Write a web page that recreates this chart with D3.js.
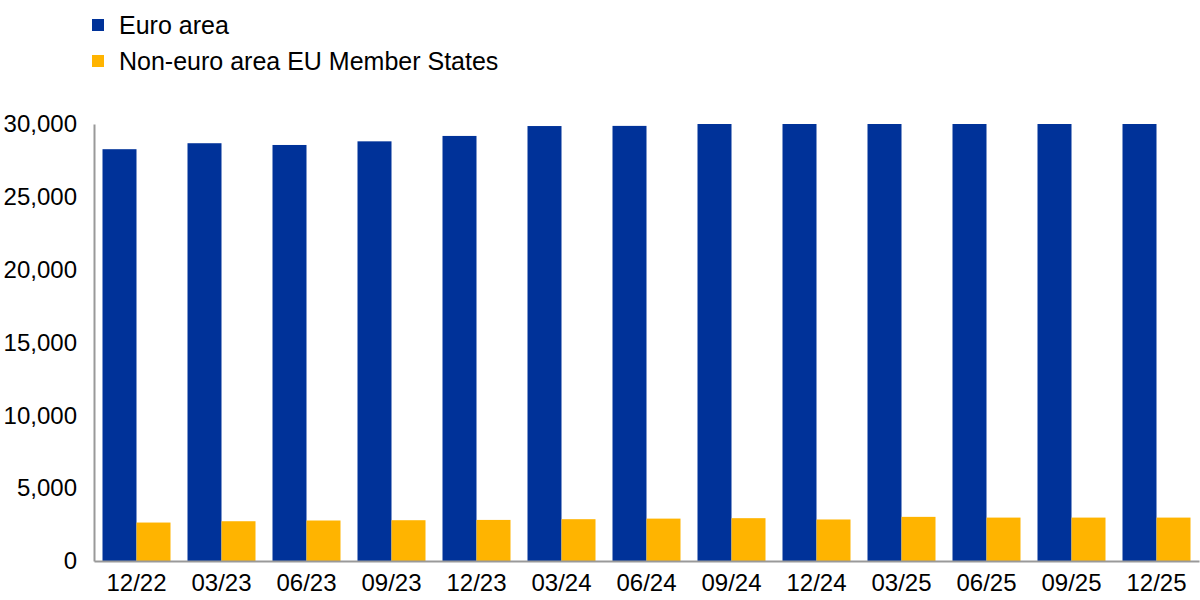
<!DOCTYPE html>
<html>
<head>
<meta charset="utf-8">
<script src="https://cdn.jsdelivr.net/npm/d3@7/dist/d3.min.js"></script>
<style>
  html, body { margin: 0; padding: 0; background: #fff; }
  svg { display: block; font-family: "Liberation Sans", Arial, sans-serif; }
</style>
</head>
<body>
<svg id="chart" width="1200" height="600"></svg>
<script>
const categories = ["12/22","03/23","06/23","09/23","12/23","03/24","06/24","09/24","12/24","03/25","06/25","09/25","12/25"];
const seriesNames = ["Euro area", "Non-euro area EU Member States"];
const euroArea = [28270, 28680, 28560, 28810, 29180, 29860, 29870, 30000, 30000, 30000, 30000, 30000, 30000];
const nonEuroArea = [2640, 2730, 2780, 2800, 2820, 2870, 2910, 2940, 2850, 3030, 2980, 2980, 2980];
const yTicks = [0, 5000, 10000, 15000, 20000, 25000, 30000];
const colors = ["#003299", "#FFB400"];

const svg = d3.select("#chart");
const margin = { left: 94, right: 1, top: 124, bottom: 39 };
const W = 1200, H = 600;

const x = d3.scaleBand().domain(categories)
  .range([margin.left, W - margin.right])
  .paddingInner(0.2).paddingOuter(0.1);
const xs = d3.scaleBand().domain([0, 1]).range([0, x.bandwidth()]);
const y = d3.scaleLinear().domain([0, 30000]).range([H - margin.bottom, margin.top]);

const series = [euroArea, nonEuroArea];

// bars
series.forEach((vals, si) => {
  svg.append("g").selectAll("rect").data(vals).join("rect")
    .attr("x", (d, i) => x(categories[i]) + xs(si))
    .attr("y", d => y(Math.min(d, 30000)))
    .attr("width", xs.bandwidth())
    .attr("height", d => y(0) - y(Math.min(d, 30000)))
    .attr("fill", colors[si]);
});

// y axis
const yAxis = d3.axisLeft(y).tickValues(yTicks).tickSize(0).tickPadding(17)
  .tickFormat(d3.format(","));
const gy = svg.append("g").attr("transform", `translate(${margin.left},0)`).call(yAxis);
gy.select(".domain").attr("stroke", "#999").attr("stroke-width", 2);
gy.selectAll("text").attr("font-size", 24).attr("fill", "#000")
  .attr("font-family", "Liberation Sans, Arial, sans-serif");

// x axis
const xAxis = d3.axisBottom(x).tickSize(0).tickPadding(13);
const gx = svg.append("g").attr("transform", `translate(0,${y(0)})`).call(xAxis);
gx.select(".domain").attr("stroke", "#999").attr("stroke-width", 2);
gx.selectAll("text").attr("font-size", 24).attr("fill", "#000")
  .attr("font-family", "Liberation Sans, Arial, sans-serif");

// legend
const legend = svg.append("g");
seriesNames.forEach((name, i) => {
  const cy = 25 + i * 36;
  legend.append("rect").attr("x", 92).attr("y", cy - 6).attr("width", 12).attr("height", 12)
    .attr("fill", colors[i]);
  legend.append("text").attr("x", 119).attr("y", cy).attr("dy", "0.35em")
    .attr("font-size", 25).attr("fill", "#000").text(name);
});
</script>
</body>
</html>
